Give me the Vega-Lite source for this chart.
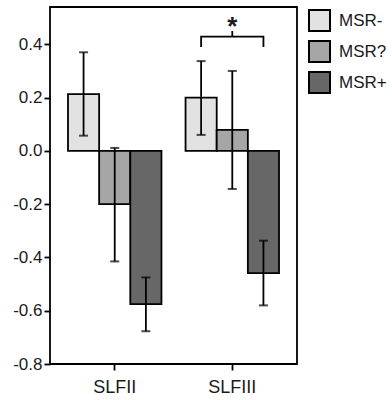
{
  "$schema": "https://vega.github.io/schema/vega-lite/v6.json",
  "autosize": {"type": "none"},
  "padding": {"left": 50, "top": 7, "right": 95, "bottom": 36},
  "width": 247,
  "height": 357,
  "background": "white",
  "config": {
    "font": "Liberation Sans",
    "locale": {"number": {"decimal": ".", "thousands": ",", "grouping": [3], "currency": ["$", ""], "minus": "-"}},
    "view": {"stroke": "black", "strokeWidth": 1.8},
    "axis": {"domain": false, "grid": false, "ticks": true, "tickColor": "black", "tickWidth": 1.8, "tickSize": 6, "labelColor": "#1a1a1a", "labelFontSize": 17, "labelFont": "Liberation Sans"}
  },
  "datasets": {
    "bars": [
      {"tract": "SLFII", "group": "MSR-", "mean": 0.213, "lo": 0.057, "hi": 0.37},
      {"tract": "SLFII", "group": "MSR?", "mean": -0.2, "lo": -0.415, "hi": 0.011},
      {"tract": "SLFII", "group": "MSR+", "mean": -0.575, "lo": -0.677, "hi": -0.475},
      {"tract": "SLFIII", "group": "MSR-", "mean": 0.2, "lo": 0.06, "hi": 0.337},
      {"tract": "SLFIII", "group": "MSR?", "mean": 0.079, "lo": -0.143, "hi": 0.3},
      {"tract": "SLFIII", "group": "MSR+", "mean": -0.459, "lo": -0.58, "hi": -0.337}
    ],
    "bracket": [
      {"tract": "SLFIII", "group": "MSR-", "v": 0.39, "o": 1},
      {"tract": "SLFIII", "group": "MSR-", "v": 0.429, "o": 2},
      {"tract": "SLFIII", "group": "MSR?", "v": 0.429, "o": 3},
      {"tract": "SLFIII", "group": "MSR?", "v": 0.45, "o": 4},
      {"tract": "SLFIII", "group": "MSR?", "v": 0.429, "o": 5},
      {"tract": "SLFIII", "group": "MSR+", "v": 0.429, "o": 6},
      {"tract": "SLFIII", "group": "MSR+", "v": 0.39, "o": 7}
    ],
    "star": [{"tract": "SLFIII", "group": "MSR?", "v": 0.465, "t": "*"}]
  },
  "encoding": {
    "x": {"field": "tract", "type": "nominal", "title": null,
          "scale": {"domain": ["SLFII", "SLFIII"], "paddingInner": 0.205, "paddingOuter": 0.153},
          "axis": {"labelAngle": 0, "labelPadding": 8, "labelFontSize": 18}},
    "xOffset": {"field": "group", "type": "nominal", "scale": {"domain": ["MSR-", "MSR?", "MSR+"], "paddingInner": 0, "paddingOuter": 0}}
  },
  "layer": [
    {
      "data": {"name": "bars"},
      "mark": {"type": "bar", "stroke": "black", "strokeWidth": 1.8},
      "encoding": {
        "y": {"field": "mean", "type": "quantitative", "title": null,
              "scale": {"domain": [-0.8, 0.54], "nice": false, "zero": false},
              "axis": {"values": [-0.8, -0.6, -0.4, -0.2, 0, 0.2, 0.4], "format": ".1f", "labelPadding": 2}},
        "color": {"field": "group", "type": "nominal", "title": null,
                  "scale": {"domain": ["MSR-", "MSR?", "MSR+"], "range": ["#e2e2e2", "#a6a6a6", "#676767"]},
                  "legend": {"orient": "none", "legendX": 258, "legendY": 2, "symbolType": "square", "symbolSize": 441,
                             "symbolStrokeColor": "black", "symbolStrokeWidth": 2, "symbolOpacity": 1,
                             "labelFontSize": 17, "labelColor": "#1a1a1a", "rowPadding": 2, "labelOffset": 8, "padding": 0}}
      }
    },
    {
      "mark": {"type": "rule", "color": "black", "strokeWidth": 1.8},
      "encoding": {"y": {"datum": 0}}
    },
    {
      "data": {"name": "bars"},
      "mark": {"type": "rule", "color": "black", "strokeWidth": 1.8},
      "encoding": {"y": {"field": "lo", "type": "quantitative"}, "y2": {"field": "hi"}}
    },
    {
      "data": {"name": "bars"},
      "mark": {"type": "tick", "color": "black", "thickness": 2, "size": 9, "orient": "horizontal"},
      "encoding": {"y": {"field": "lo", "type": "quantitative"}}
    },
    {
      "data": {"name": "bars"},
      "mark": {"type": "tick", "color": "black", "thickness": 2, "size": 9, "orient": "horizontal"},
      "encoding": {"y": {"field": "hi", "type": "quantitative"}}
    },
    {
      "data": {"name": "bracket"},
      "mark": {"type": "line", "color": "black", "strokeWidth": 1.8},
      "encoding": {"y": {"field": "v", "type": "quantitative"}, "order": {"field": "o", "type": "quantitative"}}
    },
    {
      "data": {"name": "star"},
      "mark": {"type": "text", "fontSize": 26, "fontWeight": "bold", "color": "#1a1a1a", "baseline": "middle"},
      "encoding": {"y": {"field": "v", "type": "quantitative"}, "text": {"field": "t"}}
    }
  ]
}
